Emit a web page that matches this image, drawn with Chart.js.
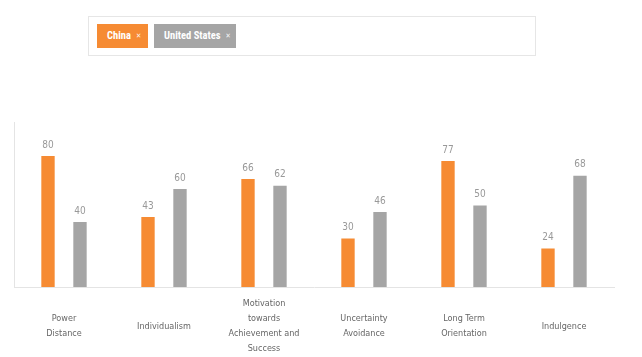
<!DOCTYPE html>
<html>
<head>
<meta charset="utf-8">
<script src="https://cdn.jsdelivr.net/npm/chart.js@4/dist/chart.umd.min.js"></script>
<style>
  html,body{margin:0;padding:0;background:#fff;}
  #wrap{position:relative;width:642px;height:357px;overflow:hidden;}
  #legend{position:absolute;left:88px;top:16px;width:446px;height:38px;border:1px solid #e6e6e6;box-sizing:content-box;}
  .item{position:absolute;top:7px;height:24px;line-height:24px;color:#fff;font-family:"Liberation Sans Narrow","Roboto Condensed","DejaVu Sans Condensed",sans-serif;font-weight:bold;font-size:10.5px;box-sizing:border-box;padding-left:10px;white-space:nowrap;}
  .item span.x{font-size:7px;margin-left:5px;opacity:0.9;vertical-align:1px;}
  canvas{position:absolute;left:0;top:0;}
</style>
</head>
<body>
<div id="wrap">
  <canvas id="c" width="642" height="357"></canvas>
  <div id="legend"></div>
</div>
<script>
const categories = [["Power","Distance"],"Individualism",["Motivation","towards","Achievement and","Success"],["Uncertainty","Avoidance"],["Long Term","Orientation"],"Indulgence"];
const seriesNames = ["China","United States"];
const chinaValues = [80,43,66,30,77,24];
const usValues = [40,60,62,46,50,68];
const seriesColors = ["#F68B33","#A5A5A5"];

// HTML legend
const legend = document.getElementById('legend');
const legendPos = [[8,51],[65,82]];
seriesNames.forEach((n,i)=>{
  const d = document.createElement('div');
  d.className='item';
  d.style.left = legendPos[i][0]+'px';
  d.style.width = legendPos[i][1]+'px';
  d.style.background = seriesColors[i];
  d.innerHTML = n + '<span class="x">\u2715</span>';
  legend.appendChild(d);
});

const valueLabels = {
  id:'valueLabels',
  afterDatasetsDraw(chart){
    const ctx = chart.ctx;
    ctx.save();
    ctx.fillStyle = '#999999';
    ctx.font = '10px "Liberation Sans Narrow","DejaVu Sans Condensed",sans-serif';
    ctx.textAlign='center';
    ctx.textBaseline='bottom';
    chart.data.datasets.forEach((ds,di)=>{
      chart.getDatasetMeta(di).data.forEach((bar,i)=>{
        ctx.fillText(String(ds.data[i]), bar.x, bar.y-5);
      });
    });
    ctx.restore();
  }
};

new Chart(document.getElementById('c'),{
  type:'bar',
  data:{
    labels:categories,
    datasets:[
      {label:seriesNames[0],data:chinaValues,backgroundColor:seriesColors[0],borderColor:'rgba(255,255,255,0.5)',borderWidth:1},
      {label:seriesNames[1],data:usValues,backgroundColor:seriesColors[1],borderColor:'rgba(255,255,255,0.5)',borderWidth:1}
    ]
  },
  options:{
    responsive:false,
    animation:false,
    devicePixelRatio:1,
    datasets:{bar:{categoryPercentage:0.64,barPercentage:0.48}},
    layout:{padding:{left:14,right:28,top:122,bottom:0}},
    plugins:{legend:{display:false},tooltip:{enabled:false}},
    scales:{
      x:{
        grid:{display:false,drawTicks:false},
        border:{display:true,color:'#e4e4e4'},
        ticks:{color:'#666666',font:{family:'"Liberation Sans Narrow","DejaVu Sans Condensed",sans-serif',size:9,lineHeight:'15px'},padding:17,maxRotation:0,autoSkip:false,crossAlign:'center'},
        afterFit(s){ s.height = 70; }
      },
      y:{
        min:0,max:100,
        grid:{display:false,drawTicks:false},
        border:{display:true,color:'#e4e4e4'},
        ticks:{display:false},
        afterFit(s){ s.width = 0; }
      }
    }
  },
  plugins:[valueLabels]
});
</script>
</body>
</html>
